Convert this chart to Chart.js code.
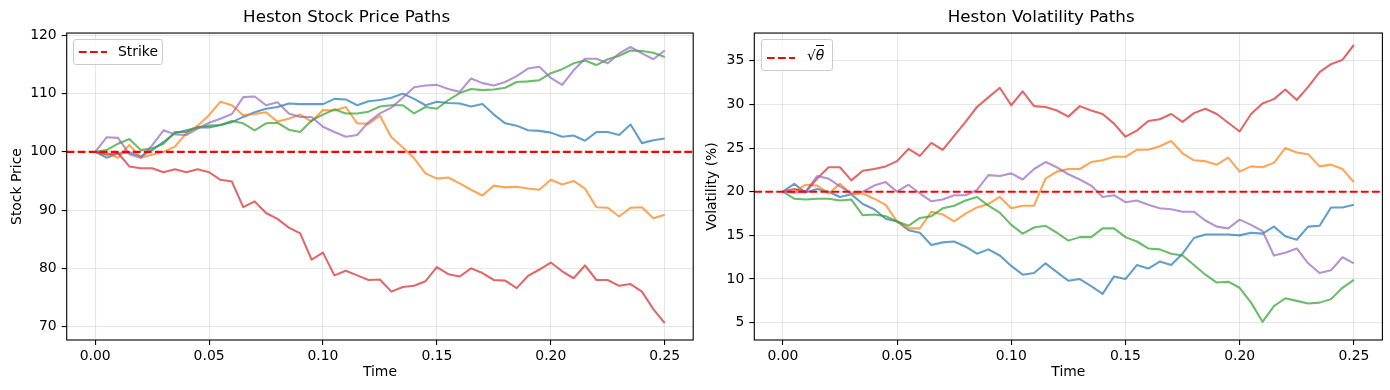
<!DOCTYPE html>
<html>
<head>
<meta charset="utf-8">
<script src="https://cdn.jsdelivr.net/npm/chart.js@4.4.1/dist/chart.umd.min.js"></script>
<style>
  body { margin: 0; background: #fff; }
  #wrap { position: relative; width: 1390px; height: 390px; font-family: 'DejaVu Sans', sans-serif; }
  #wrap canvas { position: absolute; top: 0; }
  .legend { position: absolute; box-sizing: border-box; background: rgba(255,255,255,0.8);
            border: 1px solid #cccccc; border-radius: 3px; font-size: 13.9px; color: #000; }
  .legend svg { position: absolute; left: 4px; }
  .legend .lbl { position: absolute; white-space: nowrap; }
</style>
</head>
<body>
<div id="wrap">
  <canvas id="stock" width="700" height="390" style="left:0"></canvas>
  <canvas id="vol" width="690" height="390" style="left:700px"></canvas>
  <div class="legend" style="left:73px; top:39px; width:90px; height:26px;">
    <svg width="30" height="6" style="top:9px"><line x1="1" y1="3" x2="29" y2="3" stroke="#ff0000" stroke-width="2.08" stroke-dasharray="7.7 3.33"/></svg>
    <span class="lbl" style="left:44px; top:3px;">Strike</span>
  </div>
  <div class="legend" style="left:761px; top:39px; width:72px; height:32px;">
    <svg width="30" height="6" style="top:15px"><line x1="1" y1="3" x2="29" y2="3" stroke="#ff0000" stroke-width="2.08" stroke-dasharray="7.7 3.33"/></svg>
    <span class="lbl" style="left:45px; top:7px;">√<span style="font-style:italic; border-top:1px solid #000; padding-top:1px;">θ</span></span>
  </div>
</div>
<script>
// time grid (years)
const times = [0.000, 0.005, 0.010, 0.015, 0.020, 0.025, 0.030, 0.035, 0.040, 0.045,
               0.050, 0.055, 0.060, 0.065, 0.070, 0.075, 0.080, 0.085, 0.090, 0.095,
               0.100, 0.105, 0.110, 0.115, 0.120, 0.125, 0.130, 0.135, 0.140, 0.145,
               0.150, 0.155, 0.160, 0.165, 0.170, 0.175, 0.180, 0.185, 0.190, 0.195,
               0.200, 0.205, 0.210, 0.215, 0.220, 0.225, 0.230, 0.235, 0.240, 0.245, 0.250];

// stock price paths
const priceBlue = [100, 99.0, 99.7, 99.9, 99.2, 100.3, 101.7, 103.2, 103.7, 104.2,
                   104.2, 104.6, 105.1, 106.0, 106.8, 107.4, 107.7, 108.3, 108.2, 108.2,
                   108.2, 109.1, 109.0, 108.0, 108.7, 108.9, 109.3, 110.0, 109.1, 108.0,
                   108.6, 108.4, 108.3, 107.8, 108.2, 106.4, 104.9, 104.5, 103.7, 103.6,
                   103.3, 102.6, 102.8, 101.9, 103.4, 103.4, 102.9, 104.7, 101.5, 102.0, 102.3];
const priceOrange = [100, 99.8, 99.0, 101.2, 99.0, 99.5, 100.0, 100.9, 103.2, 104.5,
                     106.3, 108.6, 108.0, 106.3, 106.5, 106.8, 105.2, 105.7, 106.4, 105.2,
                     107.2, 107.1, 107.7, 104.9, 104.8, 106.2, 102.5, 100.8, 98.9, 96.3,
                     95.4, 95.6, 94.6, 93.5, 92.5, 94.2, 93.9, 94.0, 93.7, 93.5,
                     95.2, 94.4, 95.0, 93.7, 90.5, 90.4, 88.9, 90.4, 90.5, 88.6, 89.2];
const priceGreen = [100, 100.3, 101.4, 102.2, 100.3, 100.6, 101.4, 103.4, 103.4, 104.2,
                    104.5, 104.6, 105.3, 104.9, 103.7, 104.9, 105.0, 103.8, 103.4, 105.4,
                    106.4, 107.3, 106.6, 106.6, 106.9, 107.8, 108.0, 108.0, 106.6, 107.7,
                    107.4, 108.9, 110.1, 110.8, 110.6, 110.7, 111.0, 112.0, 112.1, 112.3,
                    113.5, 114.2, 115.2, 115.7, 114.9, 115.9, 116.5, 117.4, 117.3, 117.0, 116.3];
const priceRed = [100, 99.5, 99.8, 97.5, 97.2, 97.2, 96.5, 97.0, 96.5, 97.0,
                  96.5, 95.2, 94.9, 90.5, 91.5, 89.5, 88.5, 87.0, 86.0, 81.5,
                  82.7, 78.8, 79.6, 78.8, 78.0, 78.1, 76.0, 76.8, 77.0, 77.8,
                  80.2, 79.0, 78.6, 80.0, 79.2, 78.0, 77.9, 76.6, 78.7, 79.8,
                  81.0, 79.5, 78.3, 80.5, 78.0, 78.0, 77.0, 77.3, 76.0, 73.0, 70.6];
const pricePurple = [100, 102.5, 102.4, 99.6, 99.0, 101.1, 103.7, 103.0, 102.9, 104.0,
                     105.0, 105.7, 106.5, 109.4, 109.5, 108.0, 108.5, 106.6, 106.0, 106.0,
                     104.3, 103.4, 102.6, 102.9, 105.1, 106.6, 107.6, 109.3, 111.1, 111.4,
                     111.5, 110.8, 110.3, 112.6, 111.8, 111.4, 112.0, 113.0, 114.3, 114.6,
                     112.7, 111.5, 114.0, 116.0, 116.0, 115.2, 116.9, 118.0, 116.9, 115.9, 117.4];

// volatility paths (%)
const volBlue = [20.0, 20.9, 19.9, 20.3, 20.0, 19.4, 19.7, 18.6, 18.0, 16.9,
                 16.6, 15.6, 15.3, 13.9, 14.2, 14.3, 13.7, 12.9, 13.4, 12.7,
                 11.5, 10.5, 10.7, 11.8, 10.8, 9.8, 10.0, 9.2, 8.3, 10.3,
                 10.0, 11.6, 11.2, 12.0, 11.6, 12.9, 14.7, 15.1, 15.1, 15.1,
                 15.0, 15.3, 15.2, 16.0, 14.9, 14.5, 16.0, 16.1, 18.2, 18.2, 18.5];
const volOrange = [20.0, 20.0, 20.8, 20.7, 19.8, 20.9, 19.7, 19.8, 19.2, 18.5,
                   16.6, 15.8, 15.8, 17.7, 17.4, 16.6, 17.5, 18.2, 18.6, 19.4,
                   18.1, 18.4, 18.4, 21.5, 22.3, 22.6, 22.6, 23.4, 23.6, 24.0,
                   24.0, 24.8, 24.8, 25.2, 25.8, 24.4, 23.6, 23.5, 23.1, 23.9,
                   22.3, 22.9, 22.8, 23.3, 25.0, 24.5, 24.3, 22.9, 23.1, 22.6, 21.1];
const volGreen = [20.0, 19.2, 19.1, 19.2, 19.2, 19.0, 19.1, 17.3, 17.4, 17.2,
                  16.6, 16.1, 17.0, 17.2, 18.1, 18.4, 19.0, 19.4, 18.4, 17.6,
                  16.2, 15.2, 15.9, 16.1, 15.3, 14.4, 14.8, 14.8, 15.8, 15.8,
                  14.8, 14.3, 13.5, 13.4, 12.9, 12.7, 11.6, 10.5, 9.6, 9.7,
                  9.0, 7.3, 5.1, 6.9, 7.8, 7.5, 7.2, 7.3, 7.7, 9.0, 9.9];
const volRed = [20.0, 20.3, 20.0, 21.5, 22.8, 22.8, 21.3, 22.4, 22.6, 22.9,
                23.5, 24.9, 24.1, 25.6, 24.8, 26.4, 28.0, 29.7, 30.8, 31.9,
                29.9, 31.5, 29.8, 29.7, 29.3, 28.6, 29.8, 29.3, 28.9, 27.8,
                26.3, 27.0, 28.1, 28.3, 28.9, 28.0, 29.0, 29.5, 28.9, 27.9,
                26.9, 28.9, 30.1, 30.6, 31.7, 30.5, 32.0, 33.7, 34.6, 35.1, 36.8];
const volPurple = [20.0, 19.9, 20.0, 21.8, 21.5, 20.6, 19.8, 20.0, 20.7, 21.1,
                   20.0, 20.8, 19.8, 18.9, 19.1, 19.6, 19.6, 20.2, 21.9, 21.8,
                   22.1, 21.4, 22.6, 23.4, 22.8, 22.0, 21.4, 20.7, 19.4, 19.6,
                   18.8, 19.0, 18.5, 18.1, 18.0, 17.7, 17.7, 16.7, 16.0, 15.8,
                   16.8, 16.2, 15.5, 12.7, 13.0, 13.5, 11.8, 10.7, 11.0, 12.5, 11.8];

const strike = 100;
const sqrtTheta = 20;

const timeTicks = [0, 0.05, 0.10, 0.15, 0.20, 0.25];
const priceTicks = [70, 80, 90, 100, 110, 120];
const volTicks = [5, 10, 15, 20, 25, 30, 35];

const pathColors = ['rgba(31,119,180,0.7)', 'rgba(255,127,14,0.7)', 'rgba(44,160,44,0.7)',
                    'rgba(214,39,40,0.7)', 'rgba(148,103,189,0.7)'];

Chart.defaults.font.family = "'DejaVu Sans', sans-serif";
Chart.defaults.color = '#000';

// matplotlib-like box around the axes
const frame = {
    id: 'frame',
    afterDraw(chart) {
        const { ctx, chartArea: a } = chart;
        ctx.save();
        ctx.strokeStyle = '#000';
        ctx.lineWidth = 1.1;
        ctx.strokeRect(a.left, a.top, a.right - a.left, a.bottom - a.top);
        ctx.restore();
    }
};

const gridStyle = { color: 'rgba(176,176,176,0.3)', lineWidth: 1.1, tickColor: '#000', tickLength: 5, tickWidth: 1.1 };
const tickFont = { size: 13.9 };

function makeChart(id, opts) {
    const xMin = -0.0125, xMax = 0.2625;
    const datasets = opts.series.map((vals, i) => ({
        data: vals.map((v, j) => ({ x: times[j], y: v })),
        borderColor: pathColors[i],
        borderWidth: 2.08,
        borderJoinStyle: 'round',
        pointRadius: 0,
        tension: 0,
        order: opts.series.length - i
    }));
    datasets.push({
        data: [{ x: xMin, y: opts.ref }, { x: xMax, y: opts.ref }],
        borderColor: '#ff0000',
        borderWidth: 2.08,
        borderDash: [7.7, 3.33],
        pointRadius: 0,
        order: 0
    });

    return new Chart(document.getElementById(id), {
        type: 'line',
        data: { datasets },
        plugins: [frame],
        options: {
            responsive: false,
            animation: false,
            layout: { padding: { left: 0, right: opts.rightPad, top: 0, bottom: 0 } },
            plugins: {
                legend: { display: false },
                tooltip: { enabled: false },
                title: { display: true, text: opts.title, font: { size: 16.7, weight: 'normal' }, padding: { top: 8, bottom: 5 } }
            },
            scales: {
                x: {
                    type: 'linear', min: xMin, max: xMax,
                    afterBuildTicks: s => { s.ticks = timeTicks.map(v => ({ value: v })); },
                    afterFit: s => { s.height = 50; },
                    ticks: { callback: v => v.toFixed(2), font: tickFont, padding: 3, maxRotation: 0, autoSkip: false },
                    grid: gridStyle,
                    border: { display: false },
                    title: { display: true, text: 'Time', font: tickFont, padding: { bottom: 9.7 } }
                },
                y: {
                    type: 'linear', min: opts.yMin, max: opts.yMax,
                    afterBuildTicks: s => { s.ticks = opts.yTicks.map(v => ({ value: v })); },
                    afterFit: s => { s.width = opts.yWidth; },
                    ticks: { font: tickFont, padding: 5, autoSkip: false },
                    grid: gridStyle,
                    border: { display: false },
                    title: { display: true, text: opts.yTitle, font: tickFont, padding: { top: opts.yTitlePad } }
                }
            }
        }
    });
}

makeChart('stock', {
    title: 'Heston Stock Price Paths', yTitle: 'Stock Price',
    series: [priceBlue, priceOrange, priceGreen, priceRed, pricePurple],
    ref: strike, yTicks: priceTicks, yMin: 67.7, yMax: 120.4,
    yWidth: 66.7, rightPad: 6.8, yTitlePad: 8.7
});

makeChart('vol', {
    title: 'Heston Volatility Paths', yTitle: 'Volatility (%)',
    series: [volBlue, volOrange, volGreen, volRed, volPurple],
    ref: sqrtTheta, yTicks: volTicks, yMin: 3.02, yMax: 38.17,
    yWidth: 54.3, rightPad: 7.6, yTitlePad: 3.7
});
</script>
</body>
</html>
